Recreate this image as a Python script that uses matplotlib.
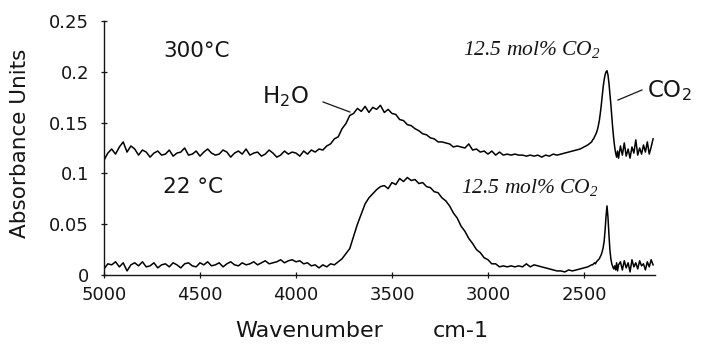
import numpy as np
import matplotlib
matplotlib.use("Agg")
import matplotlib.pyplot as plt

# Wavenumber grid (cm-1): coarse scan, finer around the CO2 band, then the tail
wavenumber = np.concatenate([
    np.arange(5000, 2459, -20),
    np.arange(2455, 2319, -5),
    np.arange(2310, 2139, -10),
])

# Absorbance in milli-absorbance units, spectrum recorded at 300 C
mau_300_main = [
    113, 120, 124, 119, 126, 131, 121, 127, 124, 118,
    123, 121, 116, 120, 122, 118, 119, 123, 117, 120,
    121, 125, 118, 119, 122, 117, 121, 124, 120, 118,
    119, 123, 121, 116, 120, 122, 119, 124, 118, 120,
    121, 117, 119, 123, 120, 116, 118, 122, 119, 121,
    120, 117, 122, 119, 123, 121, 124, 123, 127, 129,
    134, 136, 144, 149, 157, 159, 164, 161, 166, 160,
    165, 163, 167, 160, 163, 159, 158, 153, 152, 148,
    147, 144, 142, 139, 138, 135, 134, 131, 131, 130,
    129, 126, 127, 126, 125, 129, 123, 124, 121, 122,
    119, 122, 118, 121, 118, 119, 118, 119, 118, 118,
    117, 118, 117, 118, 116, 118, 117, 119, 118, 119,
    120, 121, 122, 123, 124, 126, 128, 131,
]
mau_300_co2 = [
    133, 134, 136, 138, 140, 143, 147, 152, 159, 167,
    176, 185, 192, 197, 200, 201, 197, 189, 179, 168,
    156, 144, 134, 126, 120, 116, 122, 115,
]
mau_300_tail = [
    127, 118, 130, 117, 124, 115, 126, 120, 133, 118,
    125, 119, 128, 121, 131, 119, 126, 134,
]

# Absorbance in milli-absorbance units, spectrum recorded at 22 C
mau_22_main = [
    6, 11, 10, 13, 8, 12, 4, 10, 12, 9,
    13, 8, 9, 12, 7, 10, 11, 8, 12, 10,
    7, 11, 12, 9, 8, 12, 10, 13, 9, 10,
    12, 8, 11, 13, 10, 9, 12, 10, 11, 13,
    10, 12, 14, 11, 12, 13, 15, 12, 14, 15,
    13, 14, 11, 12, 9, 10, 7, 10, 8, 11,
    10, 13, 16, 21, 26, 38, 50, 60, 70, 76,
    80, 84, 87, 88, 85, 91, 89, 95, 92, 96,
    93, 94, 90, 91, 87, 86, 82, 81, 76, 73,
    68, 61, 56, 48, 43, 36, 31, 25, 22, 17,
    15, 11, 11, 8, 9, 8, 9, 8, 9, 8,
    11, 8, 10, 9, 8, 7, 6, 5, 4, 4,
    3, 5, 4, 5, 6, 7, 8, 10,
]
mau_22_co2 = [
    10, 11, 12, 11, 13, 14, 15, 16, 18, 20,
    23, 27, 33, 44, 58, 68, 57, 40, 25, 16,
    11, 8, 6, 9, 5, 12, 4, 10,
]
mau_22_tail = [
    13, 5, 14, 7, 12, 3, 15, 8, 12, 6,
    14, 9, 11, 5, 13, 8, 15, 10,
]

x_ticks = [5000, 4500, 4000, 3500, 3000, 2500]
x_tick_labels = ["5000", "4500", "4000", "3500", "3000", "2500"]
y_ticks = [0, 0.05, 0.1, 0.15, 0.2, 0.25]
y_tick_labels = ["0", "0.05", "0.1", "0.15", "0.2", "0.25"]

absorb_300 = np.array(mau_300_main + mau_300_co2 + mau_300_tail) / 1000.0
absorb_22 = np.array(mau_22_main + mau_22_co2 + mau_22_tail) / 1000.0

INK = "#151515"
W, H = 712, 346
fig = plt.figure(figsize=(W / 100, H / 100), dpi=100)
fig.patch.set_facecolor("white")
ax = fig.add_axes([104 / W, 71 / H, 551 / W, 254 / H])

ax.plot(wavenumber, absorb_300, color="black", lw=1.1)
ax.plot(wavenumber, absorb_22, color="black", lw=1.1)

ax.set_xlim(5000, 2130)
ax.set_ylim(0, 0.25)
for side in ("top", "right"):
    ax.spines[side].set_visible(False)
for side in ("left", "bottom"):
    ax.spines[side].set_linewidth(1.0)
    ax.spines[side].set_color(INK)

ax.set_xticks(x_ticks, x_tick_labels)
ax.set_yticks(y_ticks, y_tick_labels)
ax.tick_params(axis="both", direction="inout", length=5, width=0.9,
               labelsize=13, colors=INK)
ax.tick_params(axis="y", pad=8.3)
ax.tick_params(axis="x", pad=5.4)

# Axis titles
fig.text(20 / W, 1 - 143 / H, "Absorbance Units", rotation=90,
         ha="center", va="center", fontsize=15.5, color=INK)
fig.text(235 / W, 1 - 337 / H, "Wavenumber", ha="left", va="baseline",
         fontsize=16, color=INK)
fig.text(433 / W, 1 - 337 / H, "cm-1", ha="left", va="baseline",
         fontsize=16, color=INK)

# Temperature labels
ax.text(4693, 0.2146, "300°C", ha="left", va="baseline", fontsize=15.5,
        color=INK)
ax.text(4693, 0.0807, "22 °C", ha="left", va="baseline", fontsize=15.5,
        color=INK)

# Concentration labels
serif_it = dict(family=["Liberation Serif", "DejaVu Serif"], style="italic",
                fontsize=15.5, color=INK, ha="left", va="baseline")
ax.text(3130, 0.2165, r"12.5 mol% CO$_\mathregular{2}$", **serif_it)
ax.text(3141, 0.0807, r"12.5 mol% CO$_\mathregular{2}$", **serif_it)

# Band assignments with leader lines
ax.text(4177, 0.169, r"H$_\mathregular{2}$O", ha="left", va="baseline",
        fontsize=16.5, color=INK)
ax.plot([3859, 3719], [0.1703, 0.1604], color=INK, lw=0.9)
ax.text(2172, 0.1752, r"CO$_\mathregular{2}$", ha="left", va="baseline",
        fontsize=16.5, color=INK, clip_on=False)
ax.plot([2323, 2198], [0.1722, 0.1821], color=INK, lw=0.9,
        clip_on=False)

fig.savefig("out.png", dpi=100, facecolor="white")
